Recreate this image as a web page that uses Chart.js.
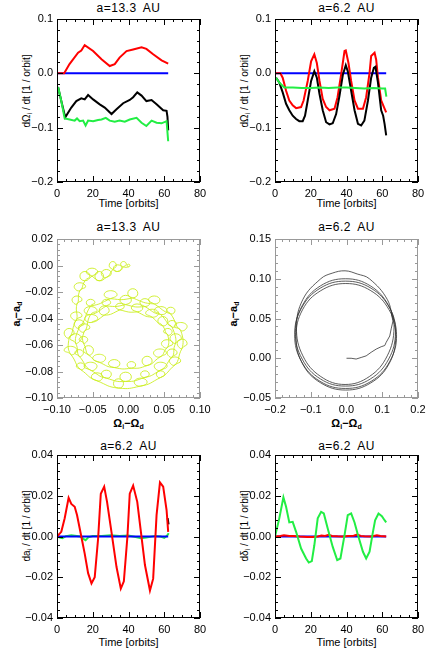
<!DOCTYPE html>
<html>
<head>
<meta charset="utf-8">
<script src="https://cdn.jsdelivr.net/npm/chart.js@4.4.1/dist/chart.umd.min.js"></script>
<style>
body { margin: 0; background: #fff; width: 436px; height: 655px; position: relative; overflow: hidden; font-family: "Liberation Sans", Arial, sans-serif; }
canvas { position: absolute; }
.lbl { position: absolute; font-size: 11px; color: #000; white-space: nowrap; transform: translate(-50%, -50%); line-height: 1; }
.ttl { font-size: 12px; letter-spacing: 0.5px; word-spacing: 3px; }
.ylab { font-size: 10px; transform: translate(-50%, -50%) rotate(-90deg); }
.dif { font-size: 11px; font-weight: bold; }
sub { font-size: 7px; vertical-align: -2px; line-height: 0; }
</style>
</head>
<body>

<div class="lbl ttl" style="left:128.5px; top:8px">a=13.3 AU</div>
<div class="lbl ttl" style="left:346.5px; top:8px">a=6.2 AU</div>
<div class="lbl ttl" style="left:128.5px; top:227px">a=13.3 AU</div>
<div class="lbl ttl" style="left:346.5px; top:227px">a=6.2 AU</div>
<div class="lbl ttl" style="left:128.5px; top:446px">a=6.2 AU</div>
<div class="lbl ttl" style="left:346.5px; top:446px">a=6.2 AU</div>

<div class="lbl" style="left:128.5px; top:203px">Time [orbits]</div>
<div class="lbl" style="left:346.5px; top:203px">Time [orbits]</div>
<div class="lbl dif" style="left:128.5px; top:423px">Ω<sub>i</sub>−Ω<sub>d</sub></div>
<div class="lbl dif" style="left:346.5px; top:423px">Ω<sub>i</sub>−Ω<sub>d</sub></div>
<div class="lbl" style="left:128.5px; top:642px">Time [orbits]</div>
<div class="lbl" style="left:346.5px; top:642px">Time [orbits]</div>

<div class="lbl ylab" style="left:27px; top:91px">dΩ<sub>i</sub> / dt [1 / orbit]</div>
<div class="lbl ylab" style="left:245px; top:91px">dΩ<sub>i</sub> / dt [1 / orbit]</div>
<div class="lbl ylab dif" style="left:16px; top:314px">a<sub>i</sub>−a<sub>d</sub></div>
<div class="lbl ylab dif" style="left:233px; top:314px">a<sub>i</sub>−a<sub>d</sub></div>
<div class="lbl ylab" style="left:27px; top:526px">da<sub>i</sub> / dt [1 / orbit]</div>
<div class="lbl ylab" style="left:245px; top:526px">dδ<sub>i</sub> / dt [1 / orbit]</div>

<script>
// ---- top left: dOmega/dt, a = 13.3 AU
const tlRedT = [0, 4, 7, 11.8, 13.6, 15.5, 20.2, 24.9, 29.5, 32.3, 35, 38.9, 42.6, 47.3, 50, 53.8, 58.5, 62.2];
const tlRed = [0, 0, 0.017, 0.038, 0.042, 0.052, 0.041, 0.026, 0.0135, 0.017, 0.029, 0.041, 0.044, 0.048, 0.045, 0.035, 0.024, 0.018];
const tlBlackT = [0.6, 2.4, 4.6, 8, 10.8, 13.6, 15.5, 17.4, 20.2, 23.9, 26.7, 30.5, 33.3, 37, 40.7, 42.6, 44.9, 47.3, 50, 52.9, 55.7, 59.4, 61.3, 61.8, 62.2];
const tlBlack = [-0.025, -0.051, -0.081, -0.063, -0.051, -0.046, -0.048, -0.040, -0.048, -0.057, -0.063, -0.075, -0.066, -0.055, -0.049, -0.044, -0.035, -0.041, -0.051, -0.049, -0.057, -0.068, -0.069, -0.080, -0.105];
const tlGreenT = [0.6, 2.4, 4.3, 7.1, 9.9, 11.2, 12.7, 14.6, 16, 17.4, 20.2, 23, 24.9, 27.3, 29.5, 32.3, 35, 37.9, 40.7, 44.5, 47.3, 50, 52.9, 55.7, 58.5, 61.3, 62.2];
const tlGreen = [-0.025, -0.051, -0.083, -0.085, -0.087, -0.083, -0.088, -0.087, -0.096, -0.087, -0.088, -0.086, -0.085, -0.082, -0.087, -0.089, -0.087, -0.089, -0.085, -0.082, -0.091, -0.097, -0.087, -0.091, -0.092, -0.088, -0.125];

// ---- top right: dOmega/dt, a = 6.2 AU
const trRedT = [0, 3, 4.3, 6.2, 8, 9.9, 11.8, 14.6, 16, 18.3, 20.2, 22, 23.4, 24.9, 26.7, 28.6, 30.5, 33.3, 35, 37, 38.9, 39.6, 41.1, 42.6, 44.5, 46.4, 49.2, 51, 52.9, 53.8, 55.7, 56.6, 57.6, 59.4, 61.3, 62.2];
const trRed = [0, 0, -0.008, -0.032, -0.050, -0.059, -0.064, -0.062, -0.050, -0.014, 0.022, 0.035, 0.019, -0.014, -0.047, -0.062, -0.068, -0.065, -0.044, -0.002, 0.041, 0.042, 0.019, -0.014, -0.050, -0.065, -0.065, -0.044, 0.001, 0.032, 0.038, 0.025, -0.008, -0.050, -0.065, -0.072];
const trBlackT = [0.6, 2.4, 4.3, 6.2, 8, 9.9, 11.8, 13.6, 15.5, 16.8, 18.3, 20.2, 22, 23.4, 24.9, 26.7, 28.6, 30.5, 32.3, 34.2, 36.1, 38, 39.6, 40.7, 42.6, 44.5, 46.4, 48.2, 50, 52, 53.8, 55.3, 56.2, 57.6, 59.4, 60.5, 61.3, 62.2];
const trBlack = [-0.008, -0.017, -0.035, -0.056, -0.068, -0.078, -0.084, -0.088, -0.088, -0.078, -0.050, -0.014, 0.004, -0.008, -0.038, -0.068, -0.090, -0.094, -0.092, -0.075, -0.041, -0.002, 0.015, 0.004, -0.032, -0.068, -0.093, -0.096, -0.087, -0.050, -0.008, 0.010, 0.012, -0.017, -0.068, -0.078, -0.093, -0.114];
const trGreenT = [0.6, 2.4, 5.2, 10, 15, 20, 25, 30, 35, 40, 45, 50, 55, 60, 61.6, 62.3];
const trGreen = [-0.008, -0.017, -0.026, -0.026, -0.027, -0.027, -0.026, -0.027, -0.026, -0.026, -0.027, -0.028, -0.027, -0.028, -0.028, -0.043];

// ---- flat reference lines
const flatT = [0, 62.2];
const flatV = [0, 0];

// ---- middle left: a_i - a_d vs Omega_i - Omega_d, a = 13.3 AU (epicyclic loops)
const farArm = [
  [0, -0.001], [-0.002, 0], [0, 0.001], [0.002, 0], [0, -0.001],
  [-0.007, -0.001], [-0.011, 0.001], [-0.007, 0.003], [-0.003, 0.001], [-0.007, -0.001],
  [-0.015, -0.0045], [-0.021, -0.002], [-0.015, 0.0005], [-0.009, -0.002], [-0.015, -0.0045],
  [-0.022, -0.003], [-0.027, 0], [-0.022, 0.003], [-0.017, 0], [-0.022, -0.003],
  [-0.031, -0.009], [-0.038, -0.006], [-0.031, -0.003], [-0.024, -0.006], [-0.031, -0.009],
  [-0.041, -0.0115], [-0.047, -0.008], [-0.041, -0.0045], [-0.035, -0.008], [-0.041, -0.0115],
  [-0.051, -0.008], [-0.059, -0.005], [-0.051, -0.002], [-0.043, -0.005], [-0.051, -0.008],
  [-0.061, -0.0115], [-0.068, -0.008], [-0.061, -0.0045], [-0.054, -0.008], [-0.061, -0.0115],
  [-0.068, -0.019], [-0.076, -0.016], [-0.068, -0.013], [-0.060, -0.016], [-0.068, -0.019],
  [-0.072, -0.029], [-0.079, -0.026], [-0.072, -0.023], [-0.065, -0.026], [-0.072, -0.029]
];
const farOuter = [
  [-0.073, -0.041], [-0.081, -0.038], [-0.073, -0.035], [-0.065, -0.038], [-0.073, -0.041],
  [-0.083, -0.0545], [-0.090, -0.051], [-0.083, -0.0475], [-0.076, -0.051], [-0.083, -0.0545],
  [-0.081, -0.067], [-0.072, -0.064], [-0.081, -0.061], [-0.090, -0.064], [-0.081, -0.067],
  [-0.067, -0.0785], [-0.061, -0.076], [-0.067, -0.0735], [-0.073, -0.076], [-0.067, -0.0785],
  [-0.044, -0.087], [-0.036, -0.084], [-0.044, -0.081], [-0.052, -0.084], [-0.044, -0.087],
  [-0.014, -0.0925], [-0.007, -0.089], [-0.014, -0.0855], [-0.021, -0.089], [-0.014, -0.0925],
  [0.017, -0.091], [0.026, -0.088], [0.017, -0.085], [0.008, -0.088], [0.017, -0.091],
  [0.045, -0.0845], [0.051, -0.082], [0.045, -0.0795], [0.039, -0.082], [0.045, -0.0845],
  [0.065, -0.075], [0.073, -0.072], [0.065, -0.069], [0.057, -0.072], [0.065, -0.075],
  [0.075, -0.0625], [0.082, -0.059], [0.075, -0.0555], [0.068, -0.059], [0.075, -0.0625],
  [0.073, -0.049], [0.064, -0.046], [0.073, -0.043], [0.082, -0.046], [0.073, -0.049],
  [0.059, -0.0365], [0.053, -0.034], [0.059, -0.0315], [0.065, -0.034], [0.059, -0.0365],
  [0.036, -0.029], [0.028, -0.026], [0.036, -0.023], [0.044, -0.026], [0.036, -0.029],
  [0.006, -0.0245], [-0.001, -0.021], [0.006, -0.0175], [0.013, -0.021], [0.006, -0.0245],
  [-0.025, -0.025], [-0.034, -0.022], [-0.025, -0.019], [-0.016, -0.022], [-0.025, -0.025],
  [-0.053, -0.0305], [-0.059, -0.028], [-0.053, -0.0255], [-0.047, -0.028], [-0.053, -0.0305]
];
const farMiddle = [
  [-0.069, -0.047], [-0.076, -0.044], [-0.069, -0.041], [-0.062, -0.044], [-0.069, -0.047],
  [-0.074, -0.0585], [-0.066, -0.055], [-0.074, -0.0515], [-0.082, -0.055], [-0.074, -0.0585],
  [-0.069, -0.0685], [-0.063, -0.066], [-0.069, -0.0635], [-0.075, -0.066], [-0.069, -0.0685],
  [-0.053, -0.079], [-0.044, -0.076], [-0.053, -0.073], [-0.062, -0.076], [-0.053, -0.079],
  [-0.031, -0.085], [-0.024, -0.082], [-0.031, -0.079], [-0.038, -0.082], [-0.031, -0.085],
  [-0.004, -0.0875], [0.004, -0.084], [-0.004, -0.0805], [-0.012, -0.084], [-0.004, -0.0875],
  [0.023, -0.0845], [0.029, -0.082], [0.023, -0.0795], [0.017, -0.082], [0.023, -0.0845],
  [0.045, -0.079], [0.054, -0.076], [0.045, -0.073], [0.036, -0.076], [0.045, -0.079],
  [0.061, -0.069], [0.068, -0.066], [0.061, -0.063], [0.054, -0.066], [0.061, -0.069],
  [0.066, -0.0585], [0.074, -0.055], [0.066, -0.0515], [0.058, -0.055], [0.066, -0.0585],
  [0.061, -0.0465], [0.055, -0.044], [0.061, -0.0415], [0.067, -0.044], [0.061, -0.0465],
  [0.045, -0.037], [0.036, -0.034], [0.045, -0.031], [0.054, -0.034], [0.045, -0.037],
  [0.023, -0.031], [0.016, -0.028], [0.023, -0.025], [0.030, -0.028], [0.023, -0.031],
  [-0.004, -0.0295], [-0.012, -0.026], [-0.004, -0.0225], [0.004, -0.026], [-0.004, -0.0295],
  [-0.031, -0.0305], [-0.037, -0.028], [-0.031, -0.0255], [-0.025, -0.028], [-0.031, -0.0305],
  [-0.053, -0.037], [-0.062, -0.034], [-0.053, -0.031], [-0.044, -0.034], [-0.053, -0.037]
];
const farInner = [
  [-0.062, -0.050], [-0.070, -0.047], [-0.062, -0.044], [-0.054, -0.047], [-0.062, -0.050],
  [-0.063, -0.0585], [-0.057, -0.056], [-0.063, -0.0535], [-0.069, -0.056], [-0.063, -0.0585],
  [-0.056, -0.0675], [-0.049, -0.064], [-0.056, -0.0605], [-0.063, -0.064], [-0.056, -0.0675],
  [-0.041, -0.073], [-0.032, -0.070], [-0.041, -0.067], [-0.050, -0.070], [-0.041, -0.073],
  [-0.020, -0.077], [-0.012, -0.074], [-0.020, -0.071], [-0.028, -0.074], [-0.020, -0.077],
  [0.004, -0.0775], [0.010, -0.075], [0.004, -0.0725], [-0.002, -0.075], [0.004, -0.0775],
  [0.026, -0.0755], [0.033, -0.072], [0.026, -0.0685], [0.019, -0.072], [0.026, -0.0755],
  [0.044, -0.069], [0.053, -0.066], [0.044, -0.063], [0.035, -0.066], [0.044, -0.069],
  [0.054, -0.062], [0.062, -0.059], [0.054, -0.056], [0.046, -0.059], [0.054, -0.062],
  [0.055, -0.0525], [0.049, -0.050], [0.055, -0.0475], [0.061, -0.050], [0.055, -0.0525],
  [0.048, -0.0455], [0.041, -0.042], [0.048, -0.0385], [0.055, -0.042], [0.048, -0.0455],
  [0.033, -0.039], [0.024, -0.036], [0.033, -0.033], [0.042, -0.036], [0.033, -0.039],
  [0.012, -0.035], [0.004, -0.032], [0.012, -0.029], [0.020, -0.032], [0.012, -0.035],
  [-0.012, -0.0335], [-0.018, -0.031], [-0.012, -0.0285], [-0.006, -0.031], [-0.012, -0.0335],
  [-0.034, -0.0375], [-0.041, -0.034], [-0.034, -0.0305], [-0.027, -0.034], [-0.034, -0.0375],
  [-0.052, -0.043], [-0.061, -0.040], [-0.052, -0.037], [-0.043, -0.040], [-0.052, -0.043]
];

// ---- middle right: a_i - a_d vs Omega_i - Omega_d, a = 6.2 AU
const nearTail = [
  [0, 0], [0.013, 0.000], [0.027, -0.001], [0.041, 0.001], [0.055, 0.003], [0.069, 0.0075],
  [0.083, 0.0115], [0.097, 0.0145], [0.107, 0.016], [0.111, 0.020], [0.121, 0.028], [0.125, 0.037], [0.130, 0.047]
];
const nearOrbit = [
  [0.130, 0.047],
  [0.114, 0.074], [0.064, 0.100], [0.030, 0.106], [-0.004, 0.110], [-0.040, 0.107], [-0.072, 0.100], [-0.122, 0.074],
  [-0.140, 0.0385], [-0.122, 0.003], [-0.072, -0.023], [-0.004, -0.033], [0.064, -0.023], [0.114, 0.003], [0.133, 0.0385],
  [0.118, 0.066], [0.067, 0.091], [-0.003, 0.100], [-0.073, 0.091], [-0.124, 0.066], [-0.143, 0.0325],
  [-0.124, -0.001], [-0.073, -0.026], [-0.003, -0.035], [0.067, -0.026], [0.118, -0.001], [0.137, 0.0325],
  [0.121, 0.063], [0.069, 0.088], [-0.003, 0.097], [-0.074, 0.088], [-0.126, 0.063], [-0.145, 0.0295],
  [-0.126, -0.004], [-0.074, -0.029], [-0.003, -0.038], [0.069, -0.029], [0.121, -0.004], [0.140, 0.0295],
  [0.119, 0.061], [0.068, 0.085], [-0.002, 0.094], [-0.072, 0.085], [-0.123, 0.061], [-0.141, 0.027],
  [-0.123, -0.007], [-0.072, -0.031], [-0.002, -0.040], [0.068, -0.031], [0.119, -0.007], [0.138, 0.027], [0.125, 0.058]
];

// ---- bottom left: da/dt, a = 6.2 AU
const blRedT = [0, 2.4, 4.3, 6.5, 8, 9.9, 11.2, 13.6, 15.5, 17.4, 19.3, 21.1, 23, 24.5, 26.4, 28, 30.5, 33.3, 35.7, 37.4, 39.4, 40.7, 42.6, 44.9, 46.7, 49.2, 52, 53.8, 55.7, 57.6, 59.4, 61.3, 62.2];
const blRed = [0, 0.0023, 0.009, 0.019, 0.016, 0.0146, 0.0105, 0.0, -0.0084, -0.018, -0.023, -0.020, -0.001, 0.021, 0.0245, 0.017, 0.002, -0.015, -0.0256, -0.022, 0.0, 0.021, 0.025, 0.017, 0.004, -0.014, -0.0265, -0.0207, 0.0105, 0.0266, 0.0245, 0.013, 0.0023];
const blGreenT = [0, 1.5, 3, 5, 8, 10, 13, 15, 16, 17.5, 20, 25, 30, 35, 40, 44, 47, 50, 55, 58, 60, 61.5, 62.5];
const blGreen = [0, -0.0005, -0.0008, 0.0002, 0.0006, 0.0004, 0.0, -0.0013, -0.0018, -0.0004, 0.0002, 0.0003, 0.0006, 0.0002, 0.0005, -0.0002, -0.0008, -0.0005, 0.0003, 0.0, -0.0007, 0.0003, 0.0016];
const blBlackT = [61.9, 62.4];
const blBlack = [0.009, 0.006];

// ---- bottom right: d(delta)/dt, a = 6.2 AU
const brGreenT = [0, 2.4, 4.7, 6.2, 8, 9.9, 11.8, 14.6, 17.4, 18.9, 20.6, 22, 23.9, 25.8, 27.3, 29.5, 32.3, 34.8, 36.6, 38.9, 40.7, 42.6, 44.5, 46.4, 49.2, 51, 52.9, 54.8, 56, 57.9, 59.8, 61.3, 62.2];
const brGreen = [0, 0.0089, 0.0192, 0.0146, 0.0069, 0.0072, 0.0023, -0.0059, -0.0108, -0.0128, -0.0121, -0.0043, 0.0089, 0.0121, 0.0113, 0.0039, -0.0051, -0.0116, -0.0108, 0.0007, 0.0105, 0.0113, 0.0069, 0.0007, -0.0075, -0.0108, -0.0075, 0.0023, 0.0080, 0.0113, 0.0100, 0.0080, 0.0069];
const brRedT = [0, 3, 5, 8, 10, 14, 18, 21, 24, 26, 28, 30, 32, 35, 38, 41, 44, 46, 48, 50, 54, 57, 59, 61, 62.2];
const brRed = [0, 0.0003, 0.0006, 0.0002, 0.0003, 0.0, -0.0002, -0.0002, 0.0, 0.0005, 0.0003, 0.0008, 0.0003, 0.0001, 0.0, 0.0002, 0.0004, 0.0009, 0.0003, 0.0001, 0.0, 0.0006, 0.0003, 0.0001, 0.0];

const RED = '#ff0000', BLUE = '#0000ff', BLACK = '#000000', GREEN = '#22ee44', LIME = '#ccee22';

// frame around each plot area, in px
const PAD_L = 50, PAD_T = 10, PAD_R = 14, PAD_B = 20;

// box with inward major/minor ticks on all four sides, IDL style
const idlFrame = {
    id: 'idlFrame',
    afterDatasetsDraw(chart, args, opts) {
        const { ctx, chartArea: a } = chart;
        const sx = chart.scales.x, sy = chart.scales.y;
        const isMajor = (v, step) => Math.abs(v / step - Math.round(v / step)) < 1e-6;
        ctx.save();
        ctx.strokeStyle = opts.color;
        ctx.lineWidth = 1;
        ctx.strokeRect(a.left + 0.5, a.top + 0.5, a.width - 1, a.height - 1);
        ctx.beginPath();
        let n = Math.round((sx.max - sx.min) / opts.xMinor);
        for (let i = 0; i <= n; i++) {
            const v = sx.min + i * opts.xMinor;
            const len = isMajor(v, sx.options.ticks.stepSize) ? 6 : 3;
            const px = Math.round(sx.getPixelForValue(v)) + 0.5;
            ctx.moveTo(px, a.bottom); ctx.lineTo(px, a.bottom - len);
            ctx.moveTo(px, a.top); ctx.lineTo(px, a.top + len);
        }
        n = Math.round((sy.max - sy.min) / opts.yMinor);
        for (let i = 0; i <= n; i++) {
            const v = sy.min + i * opts.yMinor;
            const len = isMajor(v, sy.options.ticks.stepSize) ? 6 : 3;
            const py = Math.round(sy.getPixelForValue(v)) + 0.5;
            ctx.moveTo(a.left, py); ctx.lineTo(a.left + len, py);
            ctx.moveTo(a.right, py); ctx.lineTo(a.right - len, py);
        }
        ctx.stroke();
        ctx.restore();
    }
};

const fmt = digits => v => {
    if (Math.abs(v) < 1e-9) v = 0;
    return v.toFixed(digits).replace('-', '\u2212');
};

function series(t, v, color, width) {
    return { data: t.map((x, i) => ({ x, y: v[i] })), borderColor: color, borderWidth: width, showLine: true, pointRadius: 0, tension: 0, fill: false };
}

function path(pts, color, width, tension) {
    return { data: pts.map(([x, y]) => ({ x, y })), borderColor: color, borderWidth: width, showLine: true, pointRadius: 0, tension, fill: false };
}

function drawPanel(area, xr, yr, datasets, frameColor) {
    const cv = document.createElement('canvas');
    cv.width = PAD_L + area.w + PAD_R;
    cv.height = PAD_T + area.h + PAD_B;
    cv.style.left = (area.l - PAD_L) + 'px';
    cv.style.top = (area.t - PAD_T) + 'px';
    document.body.appendChild(cv);
    const font = { family: 'Liberation Sans', size: 11 };
    new Chart(cv, {
        type: 'scatter',
        data: { datasets },
        options: {
            responsive: false,
            animation: false,
            devicePixelRatio: 1,
            events: [],
            layout: { padding: { left: 0, top: PAD_T, right: PAD_R, bottom: 0 } },
            plugins: {
                legend: { display: false },
                tooltip: { enabled: false },
                idlFrame: { color: frameColor, xMinor: xr.minor, yMinor: yr.minor }
            },
            scales: {
                x: {
                    type: 'linear', min: xr.min, max: xr.max,
                    grid: { display: false, drawTicks: false },
                    border: { display: false },
                    ticks: { stepSize: xr.major, padding: 5, color: '#000', font, maxRotation: 0, autoSkip: false, callback: fmt(xr.digits) },
                    afterFit: s => { s.height = PAD_B; s.paddingLeft = 0; s.paddingRight = 0; }
                },
                y: {
                    type: 'linear', min: yr.min, max: yr.max,
                    grid: { display: false, drawTicks: false },
                    border: { display: false },
                    ticks: { stepSize: yr.major, padding: 4, color: '#000', font, autoSkip: false, callback: fmt(yr.digits) },
                    afterFit: s => { s.width = PAD_L; s.paddingTop = 0; s.paddingBottom = 0; }
                }
            }
        },
        plugins: [idlFrame]
    });
}

const timeAxis = { min: 0, max: 80, major: 20, minor: 5, digits: 0 };
const nodeAxis = { min: -0.2, max: 0.1, major: 0.1, minor: 0.02, digits: 1 };
const rateAxis = { min: -0.04, max: 0.04, major: 0.02, minor: 0.004, digits: 2 };

drawPanel({ l: 57, t: 19, w: 143, h: 163 }, timeAxis, nodeAxis, [
    series(tlGreenT, tlGreen, GREEN, 2),
    series(tlBlackT, tlBlack, BLACK, 2),
    series(tlRedT, tlRed, RED, 2),
    series(flatT, flatV, BLUE, 2)
], '#000');

drawPanel({ l: 275, t: 19, w: 143, h: 163 }, timeAxis, nodeAxis, [
    series(trGreenT, trGreen, GREEN, 2),
    series(trBlackT, trBlack, BLACK, 2),
    series(trRedT, trRed, RED, 2),
    series(flatT, flatV, BLUE, 2)
], '#000');

drawPanel({ l: 57, t: 239, w: 143, h: 159 },
    { min: -0.1, max: 0.1, major: 0.05, minor: 0.01, digits: 2 },
    { min: -0.1, max: 0.02, major: 0.02, minor: 0.004, digits: 2 }, [
    path(farArm.concat(farOuter, farMiddle, farInner), LIME, 0.9, 0.55)
], '#999');

drawPanel({ l: 275, t: 239, w: 143, h: 159 },
    { min: -0.2, max: 0.2, major: 0.1, minor: 0.02, digits: 1 },
    { min: -0.05, max: 0.15, major: 0.05, minor: 0.01, digits: 2 }, [
    path(nearTail, '#333', 0.8, 0),
    path(nearOrbit, '#333', 0.8, 0.4)
], '#999');

drawPanel({ l: 57, t: 455, w: 143, h: 163 }, timeAxis, rateAxis, [
    series(blRedT, blRed, RED, 2),
    series(blBlackT, blBlack, BLACK, 2),
    series(flatT, flatV, BLUE, 2),
    series(blGreenT, blGreen, GREEN, 2)
], '#000');

drawPanel({ l: 275, t: 455, w: 143, h: 163 }, timeAxis, rateAxis, [
    series(brGreenT, brGreen, GREEN, 2),
    series(brRedT, brRed, RED, 2),
    series(flatT, flatV, BLUE, 2)
], '#000');
</script>
</body>
</html>
